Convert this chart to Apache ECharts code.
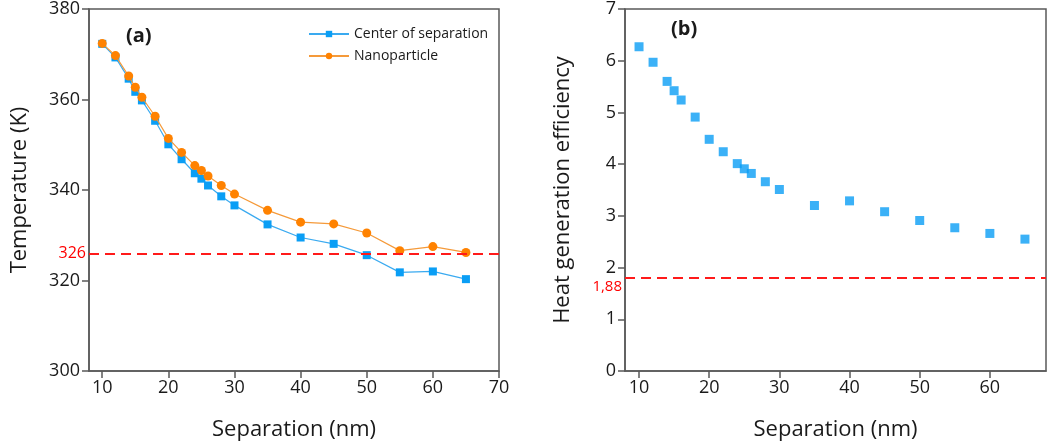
<!DOCTYPE html>
<html>
<head>
<meta charset="utf-8">
<script src="https://cdn.jsdelivr.net/npm/echarts@6/dist/echarts.min.js"></script>
<style>
  html, body { margin: 0; padding: 0; background: #fff; }
  #main { width: 1047px; height: 448px; }
</style>
</head>
<body>
<div id="main"></div>
<script>
// separation (nm) shared by both panels
const separation = [10, 12, 14, 15, 16, 18, 20, 22, 24, 25, 26, 28, 30, 35, 40, 45, 50, 55, 60, 65];
// panel (a): temperatures (K)
const centerTemp = [372.3, 369.3, 364.6, 361.7, 359.8, 355.3, 350.1, 346.8, 343.7, 342.5, 341.0, 338.6, 336.6, 332.4, 329.5, 328.1, 325.6, 321.8, 322.0, 320.3];
const nanoTemp = [372.4, 369.7, 365.2, 362.7, 360.5, 356.3, 351.4, 348.3, 345.4, 344.3, 343.1, 341.0, 339.1, 335.5, 332.9, 332.5, 330.5, 326.6, 327.5, 326.2];
// panel (b): heat generation efficiency
const efficiency = [6.27, 5.97, 5.60, 5.42, 5.24, 4.91, 4.48, 4.24, 4.01, 3.91, 3.82, 3.66, 3.51, 3.20, 3.29, 3.08, 2.91, 2.77, 2.66, 2.55];

const xTicksA = [10, 20, 30, 40, 50, 60, 70];
const xTicksB = [10, 20, 30, 40, 50, 60];
const tempLimit = 326;
const effLimitLine = 1.81;
const effLimitLabel = '1,88';

const FONT = '"Open Sans", sans-serif';
const AXIS = '#595959';
const TEXT = '#1a1a1a';

const zip = (xs, ys) => xs.map((x, i) => [x, ys[i]]);

function xAxisCfg (gridIndex, min, max, ticks) {
    return {
        type: 'value', gridIndex: gridIndex, min: min, max: max,
        name: 'Separation (nm)', nameLocation: 'middle', nameGap: 48,
        nameTextStyle: { fontFamily: FONT, fontSize: 22, color: TEXT },
        axisLine: { show: true, lineStyle: { color: AXIS, width: 1.5 } },
        axisTick: { show: true, length: 7, customValues: ticks, lineStyle: { color: AXIS, width: 1.5 } },
        axisLabel: { customValues: ticks, fontFamily: FONT, fontSize: 18, color: TEXT, margin: 8 },
        splitLine: { show: false }
    };
}

function yAxisCfg (gridIndex, min, max, interval, name, gap) {
    return {
        type: 'value', gridIndex: gridIndex, min: min, max: max, interval: interval,
        name: name, nameLocation: 'middle', nameGap: gap,
        nameTextStyle: { fontFamily: FONT, fontSize: 22, color: TEXT },
        axisLine: { show: true, lineStyle: { color: AXIS, width: 1.5 } },
        axisTick: { show: true, length: 7, lineStyle: { color: AXIS, width: 1.5 } },
        axisLabel: { fontFamily: FONT, fontSize: 18, color: TEXT, margin: 9 },
        splitLine: { show: false }
    };
}

const chart = echarts.init(document.getElementById('main'));
chart.setOption({
    animation: false,
    backgroundColor: '#fff',
    title: [
        { text: '(a)', left: 121, top: 21, textStyle: { fontFamily: FONT, fontSize: 20, fontWeight: 'bold', color: TEXT } },
        { text: '(b)', left: 666, top: 14, textStyle: { fontFamily: FONT, fontSize: 20, fontWeight: 'bold', color: TEXT } }
    ],
    legend: {
        orient: 'vertical', left: 303, top: 22, itemWidth: 40, itemHeight: 8, itemGap: 8,
        textStyle: { fontFamily: FONT, fontSize: 14, color: TEXT },
        data: ['Center of separation', 'Nanoparticle']
    },
    grid: [
        { left: 89, top: 9, width: 410, height: 362, show: true, borderColor: AXIS, borderWidth: 1.5, backgroundColor: 'transparent' },
        { left: 625, top: 9, width: 421, height: 362, show: true, borderColor: AXIS, borderWidth: 1.5, backgroundColor: 'transparent' }
    ],
    xAxis: [
        xAxisCfg(0, 8, 70, xTicksA),
        xAxisCfg(1, 8, 68, xTicksB)
    ],
    yAxis: [
        yAxisCfg(0, 300, 380, 20, 'Temperature (K)', 58),
        yAxisCfg(1, 0, 7, 1, 'Heat generation efficiency', 51)
    ],
    series: [
        {
            name: 'Center of separation', type: 'line', xAxisIndex: 0, yAxisIndex: 0,
            data: zip(separation, centerTemp),
            symbol: 'rect', symbolSize: 8,
            itemStyle: { color: '#0a9ef5' },
            lineStyle: { color: '#3aaaf0', width: 1.2 },
            markLine: {
                silent: true, symbol: 'none',
                lineStyle: { color: '#ff1a1a', type: [10, 6], width: 2 },
                label: { position: 'start', formatter: String(tempLimit), color: '#ff0000', fontFamily: FONT, fontSize: 16, distance: 3 },
                data: [{ yAxis: tempLimit }]
            },
            z: 3
        },
        {
            name: 'Nanoparticle', type: 'line', xAxisIndex: 0, yAxisIndex: 0,
            data: zip(separation, nanoTemp),
            symbol: 'circle', symbolSize: 9,
            itemStyle: { color: '#ff8200' },
            lineStyle: { color: '#f59a3a', width: 1.2 },
            z: 4
        },
        {
            name: 'Efficiency', type: 'scatter', xAxisIndex: 1, yAxisIndex: 1,
            data: zip(separation, efficiency),
            symbol: 'rect', symbolSize: 9,
            itemStyle: { color: '#0a9ef5' },
            markLine: {
                silent: true, symbol: 'none',
                lineStyle: { color: '#ff1a1a', type: [10, 6], width: 2 },
                label: { position: 'start', formatter: '\n' + effLimitLabel, lineHeight: 19, color: '#ff0000', fontFamily: FONT, fontSize: 15, distance: 3 },
                data: [{ yAxis: effLimitLine }]
            }
        }
    ]
});
</script>
</body>
</html>
